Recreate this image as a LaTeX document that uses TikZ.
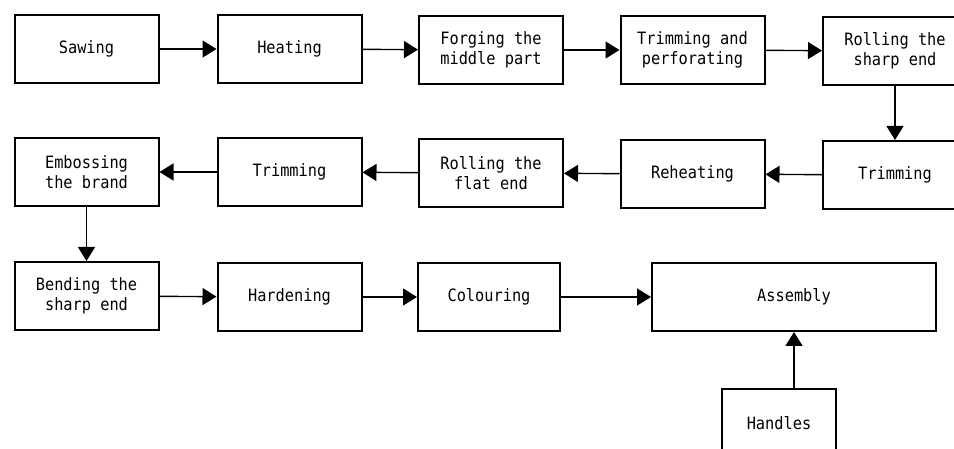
\documentclass[tikz,border=0pt]{standalone}
\usepackage{fontspec}
\usetikzlibrary{arrows.meta}
\newfontfamily\stagefont[FakeStretch=0.9]{DejaVu Sans Mono}
\tikzset{stage/.style={draw, line width=2pt, minimum width=144pt, minimum height=68pt,
        inner sep=2pt, align=center, font=\stagefont\fontsize{17}{20}\selectfont},
    flow/.style={-{Triangle[length=14pt, width=17pt]}, line width=1.4pt}}

\begin{document}
\begin{tikzpicture}[x=1pt, y=-1pt]
        \useasboundingbox (0,0) rectangle (954,449);

        % First row, left to right
        \node[stage] (sawing) at (86.5,49) {Sawing};
        \node[stage] (heating) at (289.5,49) {Heating};
        \node[stage] (forging) at (491,50) {Forging the\\middle part};
        \node[stage] (perforating) at (692.5,50) {Trimming and\\perforating};
        \node[stage] (sharpend) at (895,51) {Rolling the\\sharp end};

        % Second row, right to left
        \node[stage] (trimfirst) at (895,175) {Trimming};
        \node[stage] (reheating) at (692.5,174) {Reheating};
        \node[stage] (flatend) at (491,173) {Rolling the\\flat end};
        \node[stage] (trimsecond) at (289.5,172) {Trimming};
        \node[stage] (embossing) at (86.5,172) {Embossing\\the brand};

        % Third row and the handles
        \node[stage] (bending) at (86.5,296) {Bending the\\sharp end};
        \node[stage] (hardening) at (289.5,297) {Hardening};
        \node[stage, minimum width=142pt] (colouring) at (489,297) {Colouring};
        \node[stage, minimum width=284pt] (assembly) at (794,297) {Assembly};
        \node[stage, minimum width=114pt] (handles) at (779,423) {Handles};

        \draw[flow] (sawing) -- (heating);
        \draw[flow] (heating) -- (forging);
        \draw[flow] (forging) -- (perforating);
        \draw[flow] (perforating) -- (sharpend);
        \draw[flow] (sharpend) -- (trimfirst);
        \draw[flow] (trimfirst) -- (reheating);
        \draw[flow] (reheating) -- (flatend);
        \draw[flow] (flatend) -- (trimsecond);
        \draw[flow] (trimsecond) -- (embossing);
        \draw[flow] (embossing) -- (bending);
        \draw[flow] (bending) -- (hardening);
        \draw[flow] (hardening) -- (colouring);
        \draw[flow] (colouring) -- (assembly);
        \draw[flow] (handles.north -| assembly.south) -- (assembly.south);
    \end{tikzpicture}
\end{document}
